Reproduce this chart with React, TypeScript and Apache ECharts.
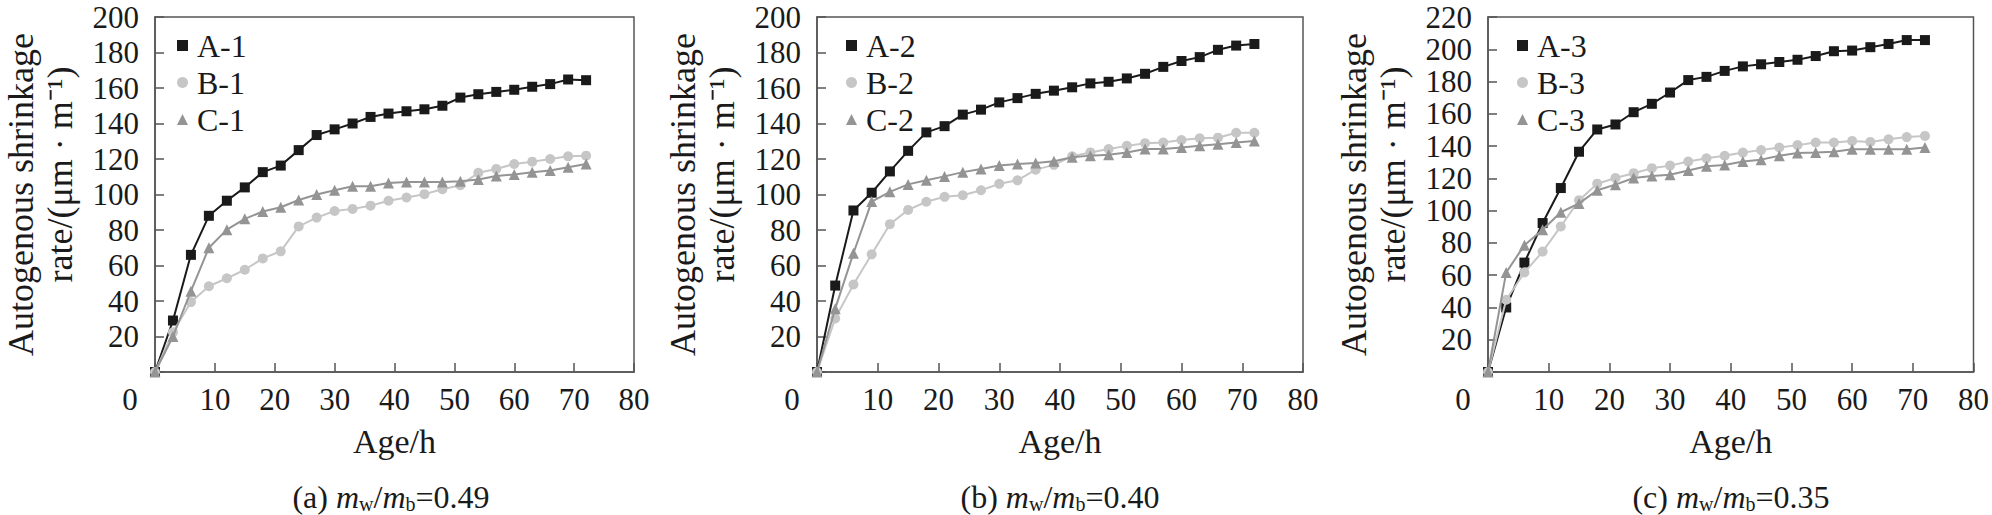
import React, { useEffect, useRef } from 'react';
import * as echarts from 'echarts';

const ages = [0, 3, 6, 9, 12, 15, 18, 21, 24, 27, 30, 33, 36, 39, 42, 45, 48, 51, 54, 57, 60, 63, 66, 69, 72];

const a1 = [0, 29, 66, 88, 96.5, 104, 112.6, 116.3, 125, 133.5, 136.7, 140, 143.7, 145.6, 146.9, 148, 150, 154.6, 156.5, 157.8, 159, 160.7, 162.2, 164.8, 164.4];
const b1 = [0, 22.4, 39.4, 48.3, 52.8, 57.6, 64, 68, 82, 87, 90.7, 91.9, 93.7, 96.5, 98.3, 100.2, 103, 105.2, 112.2, 114.4, 117.2, 118.5, 120, 121.5, 121.9];
const c1 = [0, 20, 45.5, 70, 80.2, 86.3, 90.4, 92.8, 96.9, 100, 102.4, 104.6, 104.6, 106.5, 107, 107, 107, 107.4, 108.5, 110.4, 111.3, 112.6, 113.5, 115.4, 117.2];

const a2 = [0, 48.7, 91, 101, 113, 124.6, 135, 138.5, 145, 147.8, 151.9, 154.3, 156.7, 158.5, 160.4, 162.6, 163.5, 165.4, 168, 171.9, 175.2, 177.4, 181.5, 183.9, 184.8];
const b2 = [0, 30.2, 49.3, 66.3, 83.3, 91.3, 95.9, 98.7, 99.6, 102.4, 106, 108, 114, 116.7, 121.5, 123.7, 125.6, 127.4, 128.9, 129.3, 130.7, 131.7, 132, 134.8, 134.8];
const c2 = [0, 35.7, 66.9, 96, 101.5, 105.7, 108, 110.2, 112.6, 114.4, 116.3, 117.2, 117.8, 118.7, 121, 121.9, 122.4, 123.7, 125.6, 125.6, 126.5, 127.4, 128.3, 129.3, 130.2];

const a3 = [0, 40, 67.8, 92.3, 114, 136.5, 150.3, 153.4, 161, 166.2, 173.2, 180.9, 182.9, 186.6, 189.4, 190.7, 192.1, 193.5, 195.8, 198.8, 199.2, 201.3, 203.3, 205.7, 205.7];
const b3 = [0, 44.8, 61.7, 74.6, 90.2, 106.5, 116.7, 120.2, 123.2, 126.3, 127.9, 130.4, 132.4, 134, 136, 137.5, 139.1, 140.6, 142.2, 142.2, 143.2, 142.6, 144.2, 145.6, 146.3];
const c3 = [0, 61.7, 78.6, 88.2, 99, 104.5, 112.6, 116.1, 120.2, 121.4, 122.2, 124.9, 127.5, 128.3, 130.4, 131.6, 134, 135.7, 136, 136.5, 138.1, 138.1, 138.1, 138.1, 139.1];

const panelNames = [
  ['A-1', 'B-1', 'C-1'],
  ['A-2', 'B-2', 'C-2'],
  ['A-3', 'B-3', 'C-3'],
];
const panelValues = [
  [a1, b1, c1],
  [a2, b2, c2],
  [a3, b3, c3],
];
const yMax = [200, 200, 220];
const captionTag = ['(a)', '(b)', '(c)'];
const captionValue = ['0.49', '0.40', '0.35'];

const xMin = 0;
const xMax = 80;
const xInterval = 10;
const yInterval = 20;

const xTitle = 'Age/h';
const yTitleLine1 = 'Autogenous shrinkage';
const yTitleLine2 = 'rate/(μm · m⁻¹)';

const FONT = 'Liberation Serif';
const TEXT = '#1a1a1a';
const AXIS = '#555555';
const seriesColors = ['#1a1a1a', '#c6c6c6', '#949494'];
const seriesSymbols = ['rect', 'circle', 'triangle'];
const symbolSizes = [10, 10, 11];

const gridLeft = [148, 817, 1488];
const gridTop = 17;
const gridWidth = 486;
const gridHeight = 355;

export default function App() {
  const ref = useRef<HTMLDivElement>(null);

  useEffect(() => {
    document.body.style.margin = '0';
    if (!ref.current) return;
    const chart = echarts.init(ref.current, undefined, { renderer: 'svg' });

    const grid = gridLeft.map((l) => ({
      left: l,
      top: gridTop,
      width: gridWidth,
      height: gridHeight,
      show: true,
      borderColor: AXIS,
      borderWidth: 1.5,
      backgroundColor: 'transparent',
    }));

    const xAxis = gridLeft.map((_, i) => ({
      type: 'value',
      gridIndex: i,
      min: xMin,
      max: xMax,
      interval: xInterval,
      name: xTitle,
      nameLocation: 'middle',
      nameGap: 52,
      nameTextStyle: { fontFamily: FONT, fontSize: 34, color: TEXT },
      axisLine: { show: true, lineStyle: { color: AXIS, width: 1.5 } },
      axisTick: { show: true, inside: true, length: 9, lineStyle: { color: AXIS, width: 1.5 } },
      splitLine: { show: false },
      axisLabel: {
        fontFamily: FONT,
        fontSize: 31,
        color: TEXT,
        margin: 12,
        formatter: (v: number) => (v === 0 ? '{z|0}' : String(v)),
        rich: { z: { fontFamily: FONT, fontSize: 31, color: TEXT, padding: [0, 50, 0, 0] } },
      },
    }));

    const yAxis = gridLeft.map((_, i) => ({
      type: 'value',
      gridIndex: i,
      min: 0,
      max: yMax[i],
      interval: yInterval,
      name: `{a|${yTitleLine1}}\n{b|${yTitleLine2}}`,
      nameLocation: 'middle',
      nameRotate: 90,
      nameGap: 76,
      nameTextStyle: {
        fontFamily: FONT,
        fontSize: 36,
        lineHeight: 39,
        color: TEXT,
        rich: {
          a: { fontFamily: FONT, fontSize: 36, lineHeight: 39, color: TEXT },
          b: { fontFamily: FONT, fontSize: 36, lineHeight: 39, color: TEXT, padding: [0, 0, 0, 40] },
        },
      },
      axisLine: { show: true, lineStyle: { color: AXIS, width: 1.5 } },
      axisTick: { show: true, inside: true, length: 9, lineStyle: { color: AXIS, width: 1.5 } },
      splitLine: { show: false },
      axisLabel: {
        fontFamily: FONT,
        fontSize: 31,
        color: TEXT,
        margin: 16,
        formatter: (v: number) => (v === 0 ? '' : String(v)),
      },
    }));

    const series: any[] = [];
    panelNames.forEach((names, p) => {
      names.forEach((name, k) => {
        series.push({
          type: 'line',
          name,
          xAxisIndex: p,
          yAxisIndex: p,
          data: ages.map((x, j) => [x, panelValues[p][k][j]]),
          symbol: seriesSymbols[k],
          symbolSize: symbolSizes[k],
          showAllSymbol: true,
          color: seriesColors[k],
          itemStyle: { color: seriesColors[k] },
          lineStyle: { color: seriesColors[k], width: 2 },
          z: 2 + k,
        });
      });
    });

    const legend = panelNames.map((names, p) => ({
      left: gridLeft[p] + 24,
      top: 24,
      orient: 'vertical',
      itemWidth: 11,
      itemHeight: 11,
      itemGap: 4,
      selectedMode: false,
      textStyle: { fontFamily: FONT, fontSize: 32, lineHeight: 33, color: TEXT, padding: [0, 0, 0, 4] },
      data: names.map((n, k) => ({ name: n, icon: seriesSymbols[k] })),
    }));

    const graphic = gridLeft.map((l, p) => ({
      type: 'text',
      x: l + gridWidth / 2,
      y: 497,
      style: {
        text: `${captionTag[p]} {i|m}{s|w}/{i|m}{s|b}=${captionValue[p]}`,
        fontFamily: FONT,
        fontSize: 32,
        fill: TEXT,
        align: 'center',
        verticalAlign: 'middle',
        rich: {
          i: { fontFamily: FONT, fontSize: 32, fontStyle: 'italic', fill: TEXT, lineHeight: 34 },
          s: { fontFamily: FONT, fontSize: 20, fill: TEXT, verticalAlign: 'bottom', lineHeight: 18 },
        },
      },
    }));

    chart.setOption({
      animation: false,
      backgroundColor: '#ffffff',
      grid,
      xAxis,
      yAxis,
      legend,
      series,
      graphic,
    });

    return () => chart.dispose();
  }, []);

  return <div ref={ref} style={{ width: 1992, height: 515 }} />;
}
